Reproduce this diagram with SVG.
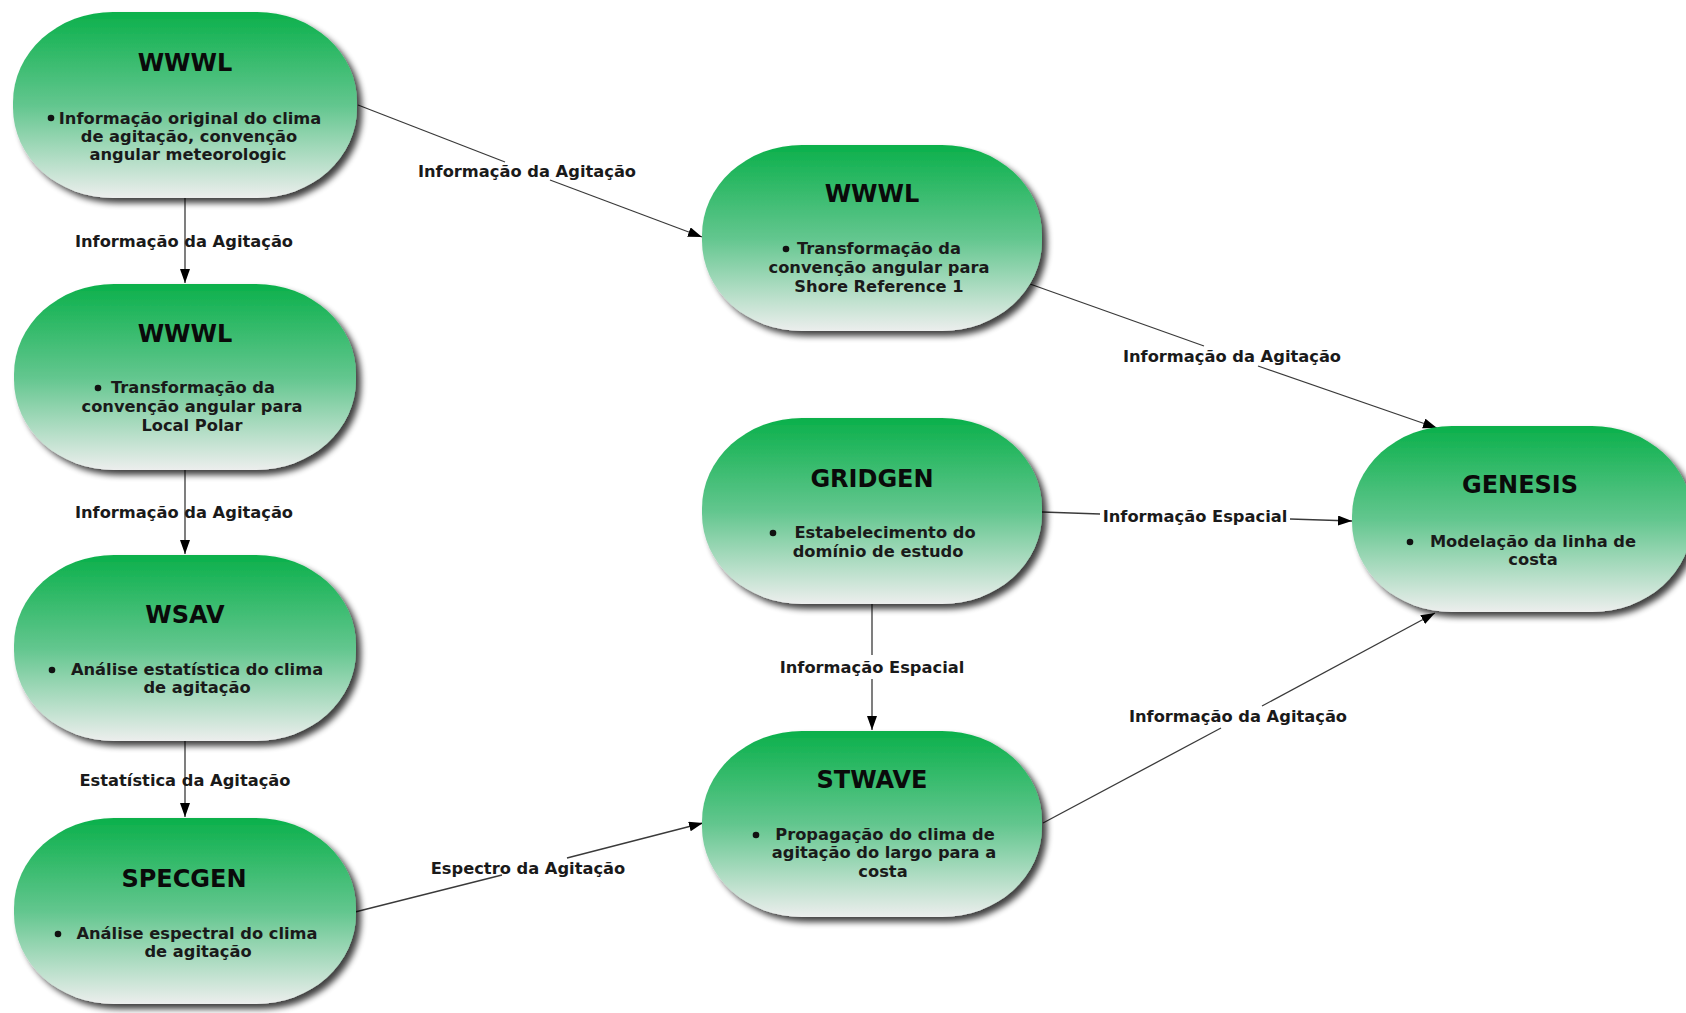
<svg xmlns="http://www.w3.org/2000/svg" width="1686" height="1013" viewBox="0 0 1686 1013">
<style>
  .shape { fill: url(#g); filter: url(#sh); }
  .title { font-family: "DejaVu Sans", Verdana, sans-serif; font-weight: bold; font-size: 24px; fill: #0a0a0a; text-anchor: middle; }
  .body { font-family: "DejaVu Sans", Verdana, sans-serif; font-weight: bold; font-size: 16.3px; fill: #1a1a1a; text-anchor: middle; }
  .lbl { font-family: "DejaVu Sans", Verdana, sans-serif; font-weight: bold; font-size: 16.3px; fill: #1a1a1a; text-anchor: middle; }
  .bul { fill: #111; }
  .edge { stroke: #3a3a3a; stroke-width: 1.3; fill: none; }
</style>
<defs>
  <linearGradient id="g" x1="0" y1="0" x2="0" y2="1">
    <stop offset="0" stop-color="#0bb04b"/>
    <stop offset="0.5" stop-color="#62c68e"/>
    <stop offset="1" stop-color="#eceeed"/>
  </linearGradient>
  <filter id="sh" x="-10%" y="-10%" width="125%" height="125%">
    <feGaussianBlur in="SourceAlpha" stdDeviation="3"/>
    <feOffset dx="5" dy="5" result="b"/>
    <feComponentTransfer in="b" result="c"><feFuncA type="linear" slope="0.75"/></feComponentTransfer>
    <feMerge><feMergeNode in="c"/><feMergeNode in="SourceGraphic"/></feMerge>
  </filter>
  <marker id="arr" markerUnits="userSpaceOnUse" markerWidth="15" markerHeight="11" refX="14" refY="5" orient="auto">
    <path d="M0,0 L14,5 L0,10 z" fill="#000"/>
  </marker>
</defs>
<rect width="1686" height="1013" fill="#fff"/>

<g id="connectors">
  <line class="edge" x1="185" y1="198" x2="185" y2="283" marker-end="url(#arr)"/>
  <line class="edge" x1="185" y1="470" x2="185" y2="554" marker-end="url(#arr)"/>
  <line class="edge" x1="185" y1="741" x2="185" y2="817" marker-end="url(#arr)"/>
  <line class="edge" x1="358" y1="105" x2="505" y2="162"/>
  <line class="edge" x1="550" y1="180" x2="702" y2="237" marker-end="url(#arr)"/>
  <line class="edge" x1="1030" y1="284" x2="1204" y2="346"/>
  <line class="edge" x1="1258" y1="366" x2="1437" y2="428" marker-end="url(#arr)"/>
  <line class="edge" x1="1042" y1="512" x2="1100" y2="514"/>
  <line class="edge" x1="1290" y1="519" x2="1352" y2="521" marker-end="url(#arr)"/>
  <line class="edge" x1="872" y1="604" x2="872" y2="655"/>
  <line class="edge" x1="872" y1="679" x2="872" y2="730" marker-end="url(#arr)"/>
  <line class="edge" x1="355" y1="912" x2="502" y2="875"/>
  <line class="edge" x1="567" y1="858" x2="703" y2="823" marker-end="url(#arr)"/>
  <line class="edge" x1="1043" y1="823" x2="1221" y2="728"/>
  <line class="edge" x1="1262" y1="706" x2="1435" y2="613" marker-end="url(#arr)"/>
  <text class="lbl" x="184" y="247">Informação da Agitação</text>
  <text class="lbl" x="184" y="518">Informação da Agitação</text>
  <text class="lbl" x="185" y="786">Estatística da Agitação</text>
  <text class="lbl" x="527" y="177">Informação da Agitação</text>
  <text class="lbl" x="1232" y="362">Informação da Agitação</text>
  <text class="lbl" x="1195" y="522">Informação Espacial</text>
  <text class="lbl" x="872" y="673">Informação Espacial</text>
  <text class="lbl" x="528" y="874">Espectro da Agitação</text>
  <text class="lbl" x="1238" y="722">Informação da Agitação</text>
</g>

<g id="node-wwwl-1">
  <rect class="shape" x="13" y="12" width="344" height="186" rx="100" ry="90"/>
  <text class="title" x="185" y="71">WWWL</text>
  <circle class="bul" cx="51" cy="118" r="3.3"/>
  <text class="body" x="190" y="124">Informação original do clima</text>
  <text class="body" x="189" y="142">de agitação, convenção</text>
  <text class="body" x="188" y="160">angular meteorologic</text>
</g>

<g id="node-wwwl-2">
  <rect class="shape" x="14" y="284" width="342" height="186" rx="100" ry="90"/>
  <text class="title" x="185" y="342">WWWL</text>
  <circle class="bul" cx="98" cy="388" r="3.3"/>
  <text class="body" x="193" y="393">Transformação da</text>
  <text class="body" x="192" y="412">convenção angular para</text>
  <text class="body" x="192" y="431">Local Polar</text>
</g>

<g id="node-wsav">
  <rect class="shape" x="14" y="555" width="342" height="186" rx="100" ry="90"/>
  <text class="title" x="185" y="623">WSAV</text>
  <circle class="bul" cx="52" cy="670" r="3.3"/>
  <text class="body" x="197" y="675">Análise estatística do clima</text>
  <text class="body" x="197" y="693">de agitação</text>
</g>

<g id="node-specgen">
  <rect class="shape" x="14" y="818" width="342" height="186" rx="100" ry="90"/>
  <text class="title" x="184" y="887">SPECGEN</text>
  <circle class="bul" cx="58" cy="934" r="3.3"/>
  <text class="body" x="197" y="939">Análise espectral do clima</text>
  <text class="body" x="198" y="957">de agitação</text>
</g>

<g id="node-wwwl-3">
  <rect class="shape" x="702" y="145" width="340" height="186" rx="100" ry="90"/>
  <text class="title" x="872" y="202">WWWL</text>
  <circle class="bul" cx="786" cy="249" r="3.3"/>
  <text class="body" x="879" y="254">Transformação da</text>
  <text class="body" x="879" y="273">convenção angular para</text>
  <text class="body" x="879" y="292">Shore Reference 1</text>
</g>

<g id="node-gridgen">
  <rect class="shape" x="702" y="418" width="340" height="186" rx="100" ry="90"/>
  <text class="title" x="872" y="487">GRIDGEN</text>
  <circle class="bul" cx="773" cy="533" r="3.3"/>
  <text class="body" x="885" y="538">Estabelecimento do</text>
  <text class="body" x="878" y="557">domínio de estudo</text>
</g>

<g id="node-stwave">
  <rect class="shape" x="702" y="731" width="340" height="186" rx="100" ry="90"/>
  <text class="title" x="872" y="788">STWAVE</text>
  <circle class="bul" cx="756" cy="835" r="3.3"/>
  <text class="body" x="885" y="840">Propagação do clima de</text>
  <text class="body" x="884" y="858">agitação do largo para a</text>
  <text class="body" x="883" y="877">costa</text>
</g>

<g id="node-genesis">
  <rect class="shape" x="1352" y="426" width="340" height="186" rx="100" ry="90"/>
  <text class="title" x="1520" y="493">GENESIS</text>
  <circle class="bul" cx="1410" cy="542" r="3.3"/>
  <text class="body" x="1533" y="547">Modelação da linha de</text>
  <text class="body" x="1533" y="565">costa</text>
</g>
</svg>
